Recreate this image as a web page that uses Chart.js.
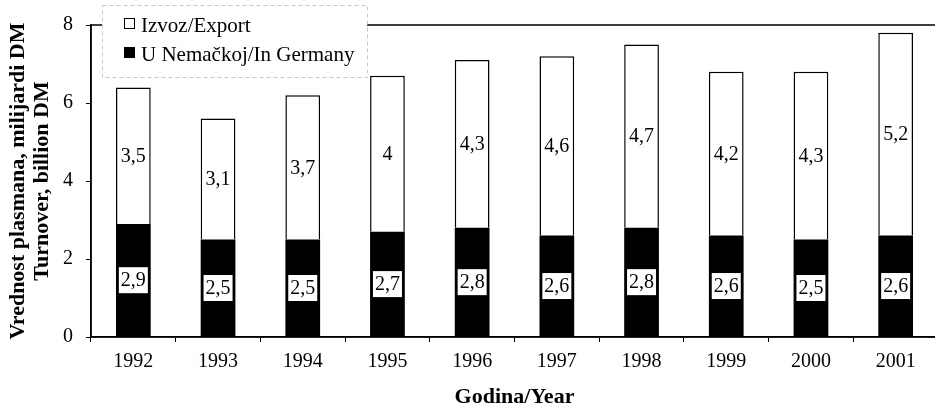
<!DOCTYPE html>
<html>
<head>
<meta charset="utf-8">
<script src="https://cdn.jsdelivr.net/npm/chart.js@4"></script>
<style>
html,body{margin:0;padding:0;background:#fff;overflow:hidden;}
#wrap{width:940px;height:413px;}
</style>
</head>
<body>
<div id="wrap"><canvas id="c" width="940" height="413"></canvas></div>
<script>
const years = ['1992','1993','1994','1995','1996','1997','1998','1999','2000','2001'];
const germany = [2.9, 2.5, 2.5, 2.7, 2.8, 2.6, 2.8, 2.6, 2.5, 2.6];
const exportVals = [3.5, 3.1, 3.7, 4, 4.3, 4.6, 4.7, 4.2, 4.3, 5.2];
const yTicks = [0, 2, 4, 6, 8];
const seriesNames = ['U Nemačkoj/In Germany', 'Izvoz/Export'];
const yTitle = ['Vrednost plasmana, milijardi DM', 'Turnover, billion DM'];
const xTitle = 'Godina/Year';

const SERIF = "'Liberation Serif', 'Times New Roman', serif";

function fmt(v){ return String(v).replace('.', ','); }

const framePlugin = {
  id: 'frame',
  beforeDatasetsDraw(chart){
    const {ctx, chartArea:a} = chart;
    ctx.save();
    ctx.strokeStyle = '#000';
    ctx.lineWidth = 1.5;
    ctx.strokeRect(a.left, a.top, a.right - a.left, a.bottom - a.top);
    ctx.restore();
  }
};

const labelPlugin = {
  id: 'barLabels',
  afterDatasetsDraw(chart){
    const ctx = chart.ctx;
    ctx.save();
    ctx.font = '20px ' + SERIF;
    ctx.textAlign = 'center';
    ctx.textBaseline = 'middle';
    chart.data.datasets.forEach((ds, di) => {
      const meta = chart.getDatasetMeta(di);
      meta.data.forEach((el, i) => {
        const t = fmt(ds.data[i]);
        const cy = (el.y + el.base) / 2;
        const w = ctx.measureText(t).width;
        if (di === 0) {
          ctx.fillStyle = '#fff';
          ctx.fillRect(el.x - w/2 - 2, cy - 13, w + 4, 26);
        }
        ctx.fillStyle = '#000';
        ctx.fillText(t, el.x, cy + 1);
      });
    });
    ctx.restore();
  }
};

const legendPlugin = {
  id: 'boxLegend',
  afterDraw(chart){
    const ctx = chart.ctx;
    ctx.save();
    ctx.fillStyle = '#fff';
    ctx.fillRect(102, 5, 265, 72);
    ctx.setLineDash([4, 3]);
    ctx.strokeStyle = '#c8c8c8';
    ctx.lineWidth = 1;
    ctx.strokeRect(102.5, 5.5, 265, 72);
    ctx.setLineDash([]);
    const items = [
      {ds: chart.data.datasets[1], y: 24},
      {ds: chart.data.datasets[0], y: 53}
    ];
    ctx.font = '21px ' + SERIF;
    ctx.textAlign = 'left';
    ctx.textBaseline = 'middle';
    items.forEach(it => {
      ctx.fillStyle = it.ds.backgroundColor;
      ctx.fillRect(124, it.y - 6, 11, 11);
      ctx.strokeStyle = '#000';
      ctx.lineWidth = 1;
      ctx.strokeRect(124.5, it.y - 5.5, 10, 10);
      ctx.fillStyle = '#000';
      ctx.fillText(it.ds.label, 141, it.y + 2);
    });
    ctx.restore();
  }
};

new Chart(document.getElementById('c'), {
  type: 'bar',
  data: {
    labels: years,
    datasets: [
      {label: seriesNames[0], data: germany, backgroundColor: '#000', borderColor: '#000', borderWidth: 0,
       barPercentage: 0.41, categoryPercentage: 1.0},
      {label: seriesNames[1], data: exportVals, backgroundColor: '#fff', borderColor: '#000', borderWidth: 1.5,
       barPercentage: 0.41, categoryPercentage: 1.0}
    ]
  },
  options: {
    responsive: false,
    animation: false,
    layout: {padding: {left: 0, top: 14, right: 2, bottom: 0}},
    plugins: {legend: {display: false}, tooltip: {enabled: false}},
    scales: {
      x: {
        stacked: true,
        grid: {display: true, drawOnChartArea: false, drawTicks: true, tickLength: 5, color: '#000', offset: true},
        border: {display: true, color: '#000', width: 1.5},
        ticks: {color: '#000', font: {family: SERIF, size: 20}, padding: 8, maxRotation: 0},
        title: {display: true, text: xTitle, color: '#000', font: {family: SERIF, size: 22, weight: 'bold'}, padding: {top: 0, bottom: 2}},
        afterFit(s){ s.height = 76; }
      },
      y: {
        stacked: true,
        min: 0, max: 8,
        afterBuildTicks(s){ s.ticks = yTicks.map(v => ({value: v})); },
        grid: {display: true, drawOnChartArea: false, drawTicks: true, tickLength: 5, color: '#000'},
        border: {display: true, color: '#000', width: 1.5},
        ticks: {color: '#000', font: {family: SERIF, size: 20}, padding: 13},
        title: {display: true, text: yTitle, color: '#000', font: {family: SERIF, size: 22, weight: 'bold', lineHeight: 1.1}, padding: {top: 6, bottom: 0}},
        afterFit(s){ s.width = 91; }
      }
    }
  },
  plugins: [framePlugin, labelPlugin, legendPlugin]
});
</script>
</body>
</html>
